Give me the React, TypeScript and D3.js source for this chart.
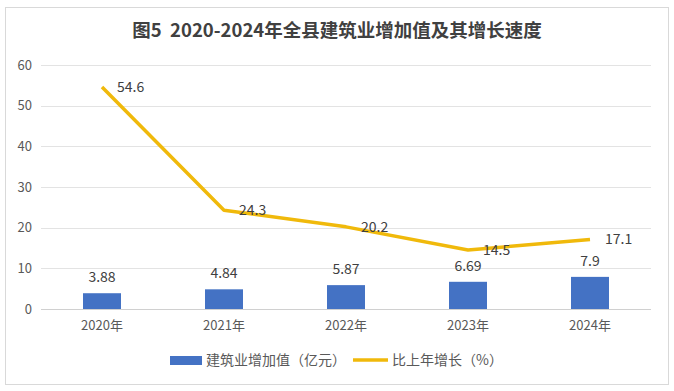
import React, { useEffect, useRef } from "react";
import * as d3 from "d3";

const years = ["2020年", "2021年", "2022年", "2023年", "2024年"];
const addedValue = [3.88, 4.84, 5.87, 6.69, 7.9];
const growth = [54.6, 24.3, 20.2, 14.5, 17.1];
const yTicks = [0, 10, 20, 30, 40, 50, 60];

const W = 674;
const H = 391;
const font = "'Noto Sans CJK SC', 'Noto Sans', sans-serif";

export default function App() {
    const ref = useRef<SVGSVGElement>(null);

    useEffect(() => {
        const svg = d3.select(ref.current);
        svg.selectAll("*").remove();

        const x = d3.scaleBand().domain(years).range([41, 651]).paddingInner(0).paddingOuter(0);
        const y = d3.scaleLinear().domain([0, 60]).range([309, 65]);
        const cx = (d) => x(d) + x.bandwidth() / 2;

        svg.append("rect")
            .attr("x", 5.5).attr("y", 7.5)
            .attr("width", 663).attr("height", 377)
            .attr("fill", "#fff").attr("stroke", "#d9d9d9");

        svg.append("text")
            .attr("x", 337).attr("y", 37)
            .attr("text-anchor", "middle")
            .attr("font-family", font)
            .attr("font-size", 18.5).attr("font-weight", "bold")
            .attr("fill", "#404040")
            .text("图5\u00A0\u00A02020-2024年全县建筑业增加值及其增长速度");

        const grid = svg.append("g");
        grid.selectAll("line")
            .data(yTicks)
            .join("line")
            .attr("x1", 41).attr("x2", 651)
            .attr("y1", (d) => Math.round(y(d)) + 0.5)
            .attr("y2", (d) => Math.round(y(d)) + 0.5)
            .attr("stroke", (d) => (d === 0 ? "#d0d0d0" : "#e3e3e3"));

        grid.selectAll("text")
            .data(yTicks)
            .join("text")
            .attr("x", 32).attr("y", (d) => y(d))
            .attr("dy", "0.35em")
            .attr("text-anchor", "end")
            .attr("font-family", font).attr("font-size", 13)
            .attr("fill", "#595959")
            .text((d) => d);

        svg.append("g").selectAll("text")
            .data(years)
            .join("text")
            .attr("x", (d) => cx(d)).attr("y", 330)
            .attr("text-anchor", "middle")
            .attr("font-family", font).attr("font-size", 13)
            .attr("fill", "#595959")
            .text((d) => d);

        const bw = 38;
        svg.append("g").selectAll("rect")
            .data(addedValue)
            .join("rect")
            .attr("x", (d, i) => cx(years[i]) - bw / 2)
            .attr("y", (d) => y(d))
            .attr("width", bw)
            .attr("height", (d) => y(0) - y(d))
            .attr("fill", "#4472C4");

        svg.append("g").selectAll("text")
            .data(addedValue)
            .join("text")
            .attr("x", (d, i) => cx(years[i])).attr("y", (d) => y(d) - 16)
            .attr("text-anchor", "middle")
            .attr("dy", "0.35em")
            .attr("font-family", font).attr("font-size", 14)
            .attr("fill", "#404040")
            .text((d) => d);

        const line = d3.line<number>()
            .x((d, i) => cx(years[i]))
            .y((d) => y(d));

        svg.append("path")
            .datum(growth)
            .attr("d", line)
            .attr("fill", "none")
            .attr("stroke", "#F0B90B")
            .attr("stroke-width", 3.5)
            .attr("stroke-linejoin", "round");

        svg.append("g").selectAll("text")
            .data(growth)
            .join("text")
            .attr("x", (d, i) => cx(years[i]) + 15).attr("y", (d) => y(d))
            .attr("dy", "0.35em")
            .attr("font-family", font).attr("font-size", 14)
            .attr("fill", "#404040")
            .text((d) => d);

        const lg = svg.append("g").attr("font-family", font).attr("font-size", 14).attr("fill", "#595959");
        lg.append("rect").attr("x", 170).attr("y", 356).attr("width", 32).attr("height", 9).attr("fill", "#4472C4");
        lg.append("text").attr("x", 206).attr("y", 360).attr("dy", "0.35em").text("建筑业增加值（亿元）");
        lg.append("line").attr("x1", 353).attr("x2", 388).attr("y1", 360).attr("y2", 360)
            .attr("stroke", "#F0B90B").attr("stroke-width", 3.5);
        lg.append("text").attr("x", 392).attr("y", 360).attr("dy", "0.35em").text("比上年增长（%）");
    }, []);

    return (
        <svg ref={ref} width={W} height={H} style={{ position: "absolute", left: 0, top: 0 }} />
    );
}
